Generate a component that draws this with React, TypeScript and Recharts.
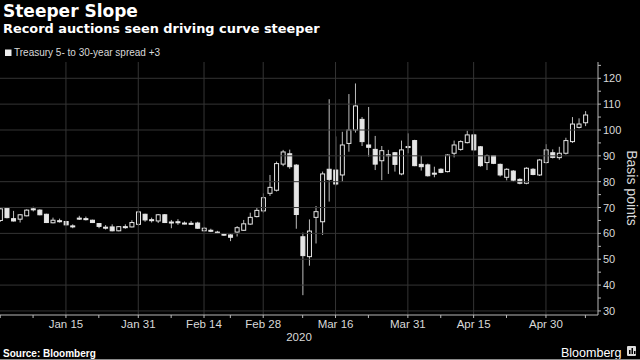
import { ComposedChart, Bar, XAxis, YAxis, ReferenceLine } from 'recharts'

const DATES = [
  'Dec 31',
  'Jan 2', 'Jan 3', 'Jan 6', 'Jan 7', 'Jan 8', 'Jan 9', 'Jan 10', 'Jan 13', 'Jan 14', 'Jan 15',
  'Jan 16', 'Jan 17', 'Jan 21', 'Jan 22', 'Jan 23', 'Jan 24', 'Jan 27', 'Jan 28', 'Jan 29', 'Jan 30', 'Jan 31',
  'Feb 3', 'Feb 4', 'Feb 5', 'Feb 6', 'Feb 7', 'Feb 10', 'Feb 11', 'Feb 12', 'Feb 13', 'Feb 14',
  'Feb 18', 'Feb 19', 'Feb 20', 'Feb 21', 'Feb 24', 'Feb 25', 'Feb 26', 'Feb 27', 'Feb 28',
  'Mar 2', 'Mar 3', 'Mar 4', 'Mar 5', 'Mar 6', 'Mar 9', 'Mar 10', 'Mar 11', 'Mar 12', 'Mar 13',
  'Mar 16', 'Mar 17', 'Mar 18', 'Mar 19', 'Mar 20', 'Mar 23', 'Mar 24', 'Mar 25', 'Mar 26', 'Mar 27', 'Mar 30', 'Mar 31',
  'Apr 1', 'Apr 2', 'Apr 3', 'Apr 6', 'Apr 7', 'Apr 8', 'Apr 9', 'Apr 13', 'Apr 14', 'Apr 15',
  'Apr 16', 'Apr 17', 'Apr 20', 'Apr 21', 'Apr 22', 'Apr 23', 'Apr 24', 'Apr 27', 'Apr 28', 'Apr 29', 'Apr 30',
  'May 1', 'May 4', 'May 5', 'May 6', 'May 7', 'May 8',
]

const OPEN = [
  65, 69.7, 65.7, 65.5, 66.8, 69.5, 69, 67.4, 64.1, 64.9, 64.6,
  62.9, 65.9, 65.7, 65.1, 63.8, 62.4, 62.5, 61, 62.6, 62.5, 63.5,
  67.4, 65.3, 64.8, 67.2, 64.4, 64.5, 64, 63.9, 64, 61,
  61.2, 60.5, 59.7, 59.4, 60.5, 61.2, 63.6, 66.5, 68.7,
  75.5, 76.7, 86.8, 90.8, 86.4, 58.7, 51, 66.2, 64.5, 84.8,
  84.5, 82.6, 94.8, 100, 104.1, 94.2, 92.5, 88.1, 90.4, 91.2, 83, 93.6,
  95.9, 86.7, 86.5, 83.3, 84.8, 83.9, 91, 92.5, 95.1, 98.1,
  93.5, 87.4, 90.1, 86.7, 81.7, 84.1, 80.9, 79.4, 84.8, 82.6, 87.4,
  91.2, 89.3, 91, 95.5, 101, 102.8,
]

const HIGH = [
  69.7, 70, 68.7, 67.4, 69.3, 70.3, 69.3, 67.6, 66.1, 65.7, 64.8,
  63.5, 66.8, 66.5, 65.3, 64, 63.2, 63.5, 62.8, 63.5, 65.1, 68.6,
  67.6, 66.1, 67.5, 67.5, 65.2, 65.5, 64.6, 64.8, 64.5, 62.5,
  61.8, 61, 60, 59.7, 62.8, 65.2, 68, 69.8, 75.5,
  82.6, 87.8, 92.3, 92.4, 86.8, 60.3, 65.4, 70.6, 83.9, 111.9,
  97.5, 99.3, 113.9, 118, 105, 108.9, 97.7, 93.8, 92.3, 91.5, 95.9, 98.7,
  96.2, 90, 87, 85.8, 85.2, 90.6, 95.9, 96, 99.7, 98.5,
  93.8, 90.5, 90.3, 87, 85.2, 84.5, 81.3, 85.6, 85.2, 88.8, 94.5,
  92.5, 93.5, 97, 105, 104.5, 107.3,
]

const LOW = [
  64.5, 65.8, 64.6, 64.2, 66.6, 68.5, 67, 64, 63.9, 64.2, 63.1,
  62, 65.2, 65, 64, 62, 61.5, 60.8, 60.8, 61.8, 62.3, 63,
  64.5, 64.2, 64, 64, 62, 63.3, 63.5, 63.3, 61.8, 60.8,
  60.5, 60, 59, 57, 58.8, 61, 63.3, 66.2, 68,
  74.5, 76.2, 86, 85, 61.8, 36.1, 47.5, 56.1, 59.4, 72.3,
  78.5, 80, 91.6, 99, 93.8, 89.7, 84.5, 80.6, 83, 83.9, 82.5, 91,
  86, 84.3, 82, 81.7, 83.3, 83.6, 89.4, 92, 94.8, 92,
  85.8, 84.5, 86.8, 82, 80.5, 80, 79, 79, 82.5, 82.2, 87,
  89, 88.5, 90.5, 95, 100.6, 101.5,
]

const CLOSE = [
  69.5, 66.1, 64.8, 67.2, 69, 69.2, 67.2, 64.2, 65.1, 64.7, 63.3,
  62.7, 65.7, 65.5, 64.2, 62.7, 62.2, 61, 62.6, 62.4, 64.2, 68.3,
  65.2, 65.1, 67.2, 64.2, 64.2, 64.3, 63.8, 63.7, 62, 62,
  61, 60.3, 59.5, 58.5, 62.2, 63.7, 66.2, 68.9, 73.8,
  77.8, 87, 91.5, 85.8, 67.3, 51.4, 60.9, 68.4, 83, 80.9,
  79.1, 94.2, 100, 109.3, 95.5, 93.3, 86.8, 92, 90.2, 86.7, 92.3, 93.4,
  86.2, 85.8, 82.3, 83.1, 83.6, 90.3, 94.2, 95.5, 98.1, 92.3,
  86.2, 90.1, 87.1, 82.6, 84.8, 80.6, 79.4, 85.2, 82.8, 88.4, 92.3,
  89.4, 91, 95.9, 102.3, 102.3, 105.8,
]

const MAJOR_TICKS = ['Jan 15', 'Jan 31', 'Feb 14', 'Feb 28', 'Mar 16', 'Mar 31', 'Apr 15', 'Apr 30']
const MINOR_TICKS = ['Dec 31', 'Jan 8', 'Jan 23', 'Feb 7', 'Feb 21', 'Mar 9', 'Mar 23', 'Apr 7', 'Apr 22', 'May 8']
const Y_TICKS = [30, 35, 40, 45, 50, 55, 60, 65, 70, 75, 80, 85, 90, 95, 100, 105, 110, 115, 120, 125]
const Y_GRID = [30, 40, 50, 60, 70, 80, 90, 100, 110, 120]

const BODY = '#e6e6e6'
const WICK = '#bdbdbd'
const GRID = '#343434'
const AXIS = '#b8b8b8'
const TEXT = '#d9d9d9'

const data = DATES.map((date, i) => ({
  date,
  open: OPEN[i],
  high: HIGH[i],
  low: LOW[i],
  close: CLOSE[i],
}))

function Candle(props: any) {
  const { x, y, width, height, payload } = props
  if (!payload) return null
  const top = Math.min(y, y + height)
  const bot = Math.max(y, y + height)
  const span = payload.high - payload.low
  const py = (v: number) => top + ((payload.high - v) / span) * (bot - top)
  const up = payload.close >= payload.open
  const bTop = py(Math.max(payload.open, payload.close))
  const bBot = py(Math.min(payload.open, payload.close))
  const cx = x + width / 2
  return (
    <g>
      <line x1={cx} x2={cx} y1={top} y2={bot} stroke={WICK} strokeWidth={1} />
      <rect
        x={x + 0.5}
        y={bTop}
        width={width - 1}
        height={Math.max(1, bBot - bTop)}
        fill={up ? '#000' : BODY}
        stroke={BODY}
        strokeWidth={1}
      />
    </g>
  )
}

function XTick({ x, y, payload }: any) {
  if (!MAJOR_TICKS.includes(payload.value)) return <g />
  return (
    <text x={x} y={y} dy={8} textAnchor="middle" fill={TEXT} fontSize={11.5} fontFamily="Liberation Sans, Arial, sans-serif">
      {payload.value}
    </text>
  )
}

function YTick({ x, y, payload }: any) {
  if (payload.value % 10 !== 0) return <g />
  return (
    <text x={x} y={y} dy={4} textAnchor="start" fill={TEXT} fontSize={11} fontFamily="Liberation Sans, Arial, sans-serif">
      {payload.value}
    </text>
  )
}

export default function App() {
  return (
    <div style={{ position: 'absolute', left: 0, top: 0, width: 640, height: 360, background: '#000', overflow: 'hidden' }}>
      <div style={{ position: 'absolute', left: -10, top: 0 }}>
        <ComposedChart width={650} height={360} data={data} margin={{ top: 62, right: 6, bottom: 15, left: 6.9 }}>
          {Y_GRID.map((v) => (
            <ReferenceLine key={'h' + v} y={v} stroke={GRID} strokeWidth={1} />
          ))}
          {MAJOR_TICKS.map((d) => (
            <ReferenceLine key={'v' + d} x={d} stroke={GRID} strokeWidth={1} />
          ))}
          <XAxis
            dataKey="date"
            ticks={[...MINOR_TICKS, ...MAJOR_TICKS]}
            interval={0}
            tick={<XTick />}
            tickSize={3}
            height={30}
            padding={{ left: 0, right: 9.3 }}
            axisLine={{ stroke: AXIS }}
            tickLine={{ stroke: AXIS }}
          />
          <YAxis
            orientation="right"
            domain={[28.43, 126.3]}
            allowDataOverflow
            ticks={Y_TICKS}
            interval={0}
            tick={<YTick />}
            tickSize={3}
            width={36}
            axisLine={{ stroke: AXIS }}
            tickLine={{ stroke: AXIS }}
          />
          <Bar dataKey={(d: any) => [d.low, d.high]} barSize={5} shape={<Candle />} isAnimationActive={false} />
        </ComposedChart>
      </div>
      <svg width={640} height={360} style={{ position: 'absolute', left: 0, top: 0, pointerEvents: 'none' }}>
        <text x={3} y={16.5} fill="#fff" fontSize={17} fontWeight="bold" fontFamily="DejaVu Sans, sans-serif">
          Steeper Slope
        </text>
        <text x={3} y={33} fill="#fff" fontSize={12.9} fontWeight="bold" fontFamily="DejaVu Sans, sans-serif">
          Record auctions seen driving curve steeper
        </text>
        <rect x={5} y={49.5} width={6.5} height={6.5} fill="#eee" />
        <text x={14} y={56} fill={TEXT} fontSize={10} fontFamily="Liberation Sans, Arial, sans-serif">
          Treasury 5- to 30-year spread +3
        </text>
        <text x={626.5} y={188} transform="rotate(90 626.5 188)" textAnchor="middle" fill={TEXT} fontSize={14} fontFamily="Liberation Sans, Arial, sans-serif">
          Basis points
        </text>
        <text x={299} y={341} textAnchor="middle" fill={TEXT} fontSize={11.5} fontFamily="Liberation Sans, Arial, sans-serif">
          2020
        </text>
        <text x={3} y={357} fill="#fff" fontSize={10} fontWeight="bold" fontFamily="Liberation Sans, Arial, sans-serif">
          Source: Bloomberg
        </text>
        <text x={561} y={357} fill="#fff" fontSize={12.5} fontFamily="Liberation Sans, Arial, sans-serif">
          Bloomberg
        </text>
        <rect x={627} y={346} width={9} height={10} rx={1} fill="#ddd" />
        <rect x={629} y={350} width={1.5} height={4} fill="#000" />
        <rect x={631.5} y={348} width={1.5} height={6} fill="#000" />
        <rect x={634} y={351} width={1.5} height={3} fill="#000" />
        <line x1={0} x2={640} y1={359.5} y2={359.5} stroke="#8a8a8a" />
      </svg>
    </div>
  )
}
